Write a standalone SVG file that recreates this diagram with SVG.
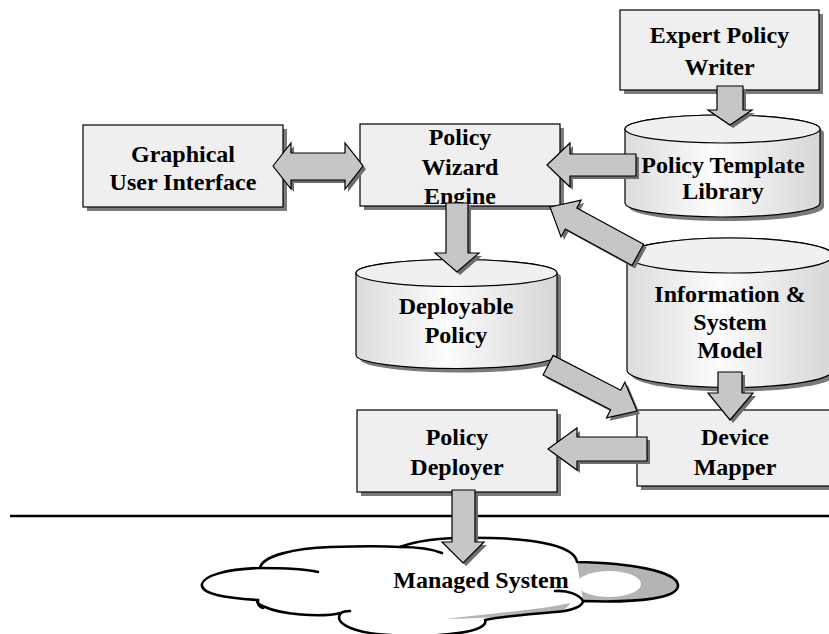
<svg xmlns="http://www.w3.org/2000/svg" xmlns:xlink="http://www.w3.org/1999/xlink" width="829" height="634" viewBox="0 0 829 634">
<style>
.box{fill:#efefef;stroke:#000;stroke-width:1.2}
.sh{fill:#7a7a7a}
.cyl{fill:url(#cg);stroke:#000;stroke-width:1.2}
.cyltop{fill:#f0f0f0;stroke:#000;stroke-width:1.2}
.arr{fill:#c6c6c6;stroke:#000;stroke-width:1.2}
.ash{fill:#6e6e6e}
.cloudfill{fill:#fff}
.cloudline{fill:none;stroke:#000;stroke-width:2.6;stroke-linecap:round;stroke-linejoin:round}
.gray{fill:#b4b4b4}
text{font-family:"Liberation Serif","Times New Roman",serif;font-weight:bold;font-size:24px;text-anchor:middle;fill:#000}
</style>
<defs>
<linearGradient id="cg" x1="0" y1="0" x2="1" y2="0">
<stop offset="0" stop-color="#dcdcdc"/>
<stop offset="0.45" stop-color="#fcfcfc"/>
<stop offset="1" stop-color="#d6d6d6"/>
</linearGradient>
<polygon id="a1" points="717,86 743,86 743,110 752,110 730,125 708,110 717,110"/>
<polygon id="a2" points="273,166 291,143 291,153 345,153 345,143 363,166 345,189 345,180 291,180 291,189"/>
<polygon id="a3" points="547,165 570,143 570,154 636,154 636,176 570,176 570,187"/>
<polygon id="a4" points="446,203 468,203 468,253 479,253 457,272 435,253 446,253"/>
<polygon id="a5" transform="translate(550,207) rotate(28.6)" points="0,0 24,-21 24,-12 100,-12 100,12 24,12 24,21"/>
<polygon id="a6" transform="translate(637,411) rotate(207.3)" points="0,0 24,-20 24,-11 100,-11 100,11 24,11 24,20"/>
<polygon id="a7" points="718,372 742,372 742,393 753,393 730,420 708,393 718,393"/>
<polygon id="a8" points="548,449 577,428 577,437 647,437 647,461 577,461 577,470"/>
<polygon id="a9" points="452,490 475,490 475,542 484,542 463,563 442,542 452,542"/>
</defs>

<g id="expert-policy-writer">
<rect class="sh" x="624" y="14" width="199" height="80"/>
<rect class="box" x="620" y="10" width="199" height="80"/>
<text x="719.5" y="43">Expert Policy</text>
<text x="719.5" y="75">Writer</text>
</g>

<g id="graphical-user-interface">
<rect class="sh" x="87" y="129" width="200" height="82"/>
<rect class="box" x="83" y="125" width="200" height="82"/>
<text x="183" y="162">Graphical</text>
<text x="183" y="190">User Interface</text>
</g>

<g id="policy-wizard-engine">
<rect class="sh" x="364" y="128" width="200" height="82"/>
<rect class="box" x="360" y="124" width="200" height="82"/>
<text x="460" y="145">Policy</text>
<text x="460" y="175">Wizard</text>
<text x="460" y="204">Engine</text>
</g>

<g id="policy-template-library">
<path class="sh" transform="translate(4,4)" d="M625,129 L625,203 A97.5,14 0 0 0 820,203 L820,129 A97.5,14 0 0 0 625,129 Z"/>
<path class="cyl" d="M625,129 L625,203 A97.5,14 0 0 0 820,203 L820,129 A97.5,14 0 0 0 625,129 Z"/>
<ellipse class="cyltop" cx="722.5" cy="129" rx="97.5" ry="14"/>
<text x="723" y="173">Policy Template</text>
<text x="723" y="199">Library</text>
</g>

<g id="deployable-policy">
<path class="sh" transform="translate(4,4)" d="M356,273 L356,355 A100.5,13.5 0 0 0 557,355 L557,273 A100.5,13.5 0 0 0 356,273 Z"/>
<path class="cyl" d="M356,273 L356,355 A100.5,13.5 0 0 0 557,355 L557,273 A100.5,13.5 0 0 0 356,273 Z"/>
<ellipse class="cyltop" cx="456.5" cy="273" rx="100.5" ry="13.5"/>
<text x="456" y="314">Deployable</text>
<text x="456" y="343">Policy</text>
</g>

<g id="information-system-model">
<path class="sh" transform="translate(4,4)" d="M627,255.5 L627,370 A103,17.5 0 0 0 833,370 L833,255.5 A103,17.5 0 0 0 627,255.5 Z"/>
<path class="cyl" d="M627,255.5 L627,370 A103,17.5 0 0 0 833,370 L833,255.5 A103,17.5 0 0 0 627,255.5 Z"/>
<ellipse class="cyltop" cx="730" cy="255.5" rx="103" ry="17.5"/>
<text x="730" y="302">Information &amp;</text>
<text x="730" y="330">System</text>
<text x="730" y="358">Model</text>
</g>

<g id="device-mapper">
<rect class="sh" x="641" y="414" width="200" height="76"/>
<rect class="box" x="637" y="410" width="200" height="76"/>
<text x="735" y="445">Device</text>
<text x="735" y="475">Mapper</text>
</g>

<g id="policy-deployer">
<rect class="sh" x="361" y="414" width="200" height="82"/>
<rect class="box" x="357" y="410" width="200" height="82"/>
<text x="457" y="445">Policy</text>
<text x="457" y="475">Deployer</text>
</g>

<g id="separator">
<line x1="10" y1="516" x2="829" y2="516" stroke="#000" stroke-width="2.5"/>
</g>

<g id="managed-system">
<path class="cloudfill" d="M202,584 C204,576 225,569 260,568 C262,556 295,548 330,547 C360,546 385,546 400,547 C420,539 455,537 490,538 C540,539 575,547 577,562 C630,563 676,571 678,585 C679,598 640,603 583,601 C583,606 572,611 555,612 C530,614 500,617 485,620 C490,632 440,638 390,635 C350,633 333,622 341,613 C320,618 280,614 265,607 C258,604 256,602 258,600 C225,598 200,594 202,584 Z"/>
<path class="gray" d="M577,562 C630,563 676,571 678,585 C679,598 640,603 583,601 Z"/>
<ellipse cx="609" cy="584" rx="32" ry="13" fill="#fff"/>
<path class="gray" d="M446,619 C490,613 540,610 570,603 C568,609 560,612 548,613 C520,615 490,618 446,619 Z"/>
<path class="cloudline" d="M202,584 C204,576 225,569 260,568 C262,556 295,548 330,547 C360,546 385,546 400,547 C420,539 455,537 490,538 C540,539 575,547 577,562 C630,563 676,571 678,585 C679,598 640,603 583,601 C583,606 572,611 555,612 C530,614 500,617 485,620 C490,632 440,638 390,635 C350,633 333,622 341,613 C320,618 280,614 265,607 C258,604 256,602 258,600 C225,598 200,594 202,584 Z"/>
<path class="cloudline" d="M260,568 C285,568 305,569 318,572"/>
<path class="cloudline" d="M400,547 C418,547 432,549 442,553"/>
<path class="cloudline" d="M555,591 C568,590 580,595 583,601"/>
<path class="cloudline" d="M341,613 C344,611 347,611 350,611"/>
<path class="cloudline" d="M258,600 C257,604 259,607 263,608"/>
<text x="481" y="588">Managed System</text>
</g>

<g id="connectors">
<use xlink:href="#a1" class="ash" transform="translate(3,3)"/>
<use xlink:href="#a1" class="arr"/>
<use xlink:href="#a2" class="ash" transform="translate(3,3)"/>
<use xlink:href="#a2" class="arr"/>
<use xlink:href="#a3" class="ash" transform="translate(3,3)"/>
<use xlink:href="#a3" class="arr"/>
<use xlink:href="#a4" class="ash" transform="translate(3,3)"/>
<use xlink:href="#a4" class="arr"/>
<use xlink:href="#a5" class="ash" transform="translate(3,3)"/>
<use xlink:href="#a5" class="arr"/>
<use xlink:href="#a6" class="ash" transform="translate(3,3)"/>
<use xlink:href="#a6" class="arr"/>
<use xlink:href="#a7" class="ash" transform="translate(3,3)"/>
<use xlink:href="#a7" class="arr"/>
<use xlink:href="#a8" class="ash" transform="translate(3,3)"/>
<use xlink:href="#a8" class="arr"/>
<use xlink:href="#a9" class="ash" transform="translate(3,3)"/>
<use xlink:href="#a9" class="arr"/>
</g>
</svg>
